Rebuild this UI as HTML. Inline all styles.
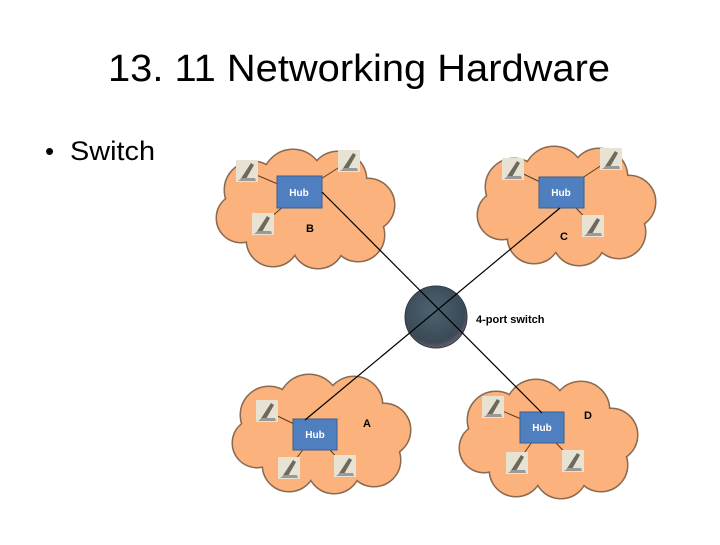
<!DOCTYPE html>
<html><head><style>
body{margin:0;width:720px;height:540px;background:#fff;overflow:hidden;font-family:"Liberation Sans",sans-serif}
</style></head><body>
<svg width="720" height="540" xmlns="http://www.w3.org/2000/svg">
<defs>
<g id="cl">
<circle cx="40" cy="40" r="28"/><circle cx="80" cy="30" r="30"/><circle cx="125" cy="30" r="28"/>
<circle cx="155" cy="55" r="26"/><circle cx="145" cy="85" r="26"/><circle cx="105" cy="92" r="26"/>
<circle cx="60" cy="90" r="26"/><circle cx="28" cy="68" r="24"/><ellipse cx="90" cy="60" rx="70" ry="40"/>
</g>
<g id="pc">
<rect x="0" y="0" width="22" height="22" fill="#e8e2d2"/>
<path d="M4 20 L15 3 L18 5 L10 19 Z" fill="#6b6a5c"/>
<path d="M2 21 L20 21 L19 18 L6 18 Z" fill="#999"/>
</g>
<radialGradient id="sw" cx="0.45" cy="0.4" r="0.6"><stop offset="0" stop-color="#4d6270"/><stop offset="0.85" stop-color="#3a4a56"/><stop offset="1" stop-color="#6a5a6a"/></radialGradient>
</defs>
<text x="108" y="81" font-size="38" textLength="502" lengthAdjust="spacingAndGlyphs" fill="#000">13. 11 Networking Hardware</text>
<text x="45" y="160" font-size="26" fill="#000">•</text>
<text x="70" y="160" font-size="27" textLength="85" lengthAdjust="spacingAndGlyphs" fill="#000">Switch</text>

<g transform="translate(213,150)"><use href="#cl" fill="#f4ab76" stroke="#8a6a50" stroke-width="3"/><use href="#cl" fill="#fbb27c"/></g>
<g transform="translate(474,147)"><use href="#cl" fill="#f4ab76" stroke="#8a6a50" stroke-width="3"/><use href="#cl" fill="#fbb27c"/></g>
<g transform="translate(229,375)"><use href="#cl" fill="#f4ab76" stroke="#8a6a50" stroke-width="3"/><use href="#cl" fill="#fbb27c"/></g>
<g transform="translate(456,380)"><use href="#cl" fill="#f4ab76" stroke="#8a6a50" stroke-width="3"/><use href="#cl" fill="#fbb27c"/></g>

<g stroke="#5a3a20" stroke-width="1">
<line x1="247" y1="171" x2="299" y2="193"/><line x1="349" y1="161" x2="299" y2="193"/><line x1="263" y1="224" x2="299" y2="193"/>
<line x1="513" y1="169" x2="561" y2="192"/><line x1="611" y1="159" x2="561" y2="192"/><line x1="593" y1="226" x2="561" y2="192"/>
<line x1="267" y1="411" x2="315" y2="434"/><line x1="289" y1="468" x2="315" y2="434"/><line x1="345" y1="466" x2="315" y2="434"/>
<line x1="493" y1="407" x2="542" y2="428"/><line x1="517" y1="463" x2="542" y2="428"/><line x1="573" y1="461" x2="542" y2="428"/>
</g>
<use href="#pc" x="236" y="160"/><use href="#pc" x="338" y="150"/><use href="#pc" x="252" y="213"/>
<use href="#pc" x="502" y="158"/><use href="#pc" x="600" y="148"/><use href="#pc" x="582" y="215"/>
<use href="#pc" x="256" y="400"/><use href="#pc" x="278" y="457"/><use href="#pc" x="334" y="455"/>
<use href="#pc" x="482" y="396"/><use href="#pc" x="506" y="452"/><use href="#pc" x="562" y="450"/>

<g fill="#4f7fbf" stroke="#3a5f90" stroke-width="1">
<rect x="277" y="176" width="45" height="32"/><rect x="539" y="177" width="45" height="31"/>
<rect x="293" y="419" width="44" height="31"/><rect x="520" y="412" width="44" height="31"/>
</g>
<g fill="#fff" font-size="10" font-weight="bold" text-anchor="middle">
<text x="299" y="196">Hub</text><text x="561" y="196">Hub</text><text x="315" y="438">Hub</text><text x="542" y="431">Hub</text>
</g>
<g font-size="11" font-weight="bold" fill="#000">
<text x="306" y="232">B</text><text x="560" y="240">C</text><text x="363" y="427">A</text><text x="584" y="419">D</text>
<text x="476" y="323">4-port switch</text>
</g>
<circle cx="436" cy="317" r="31" fill="url(#sw)" stroke="#2e3a44" stroke-width="1"/>
<g stroke="#000" stroke-width="1.2">
<line x1="322" y1="192" x2="542" y2="413"/>
<line x1="560" y1="208" x2="305" y2="420"/>
</g>
</svg>
</body></html>
